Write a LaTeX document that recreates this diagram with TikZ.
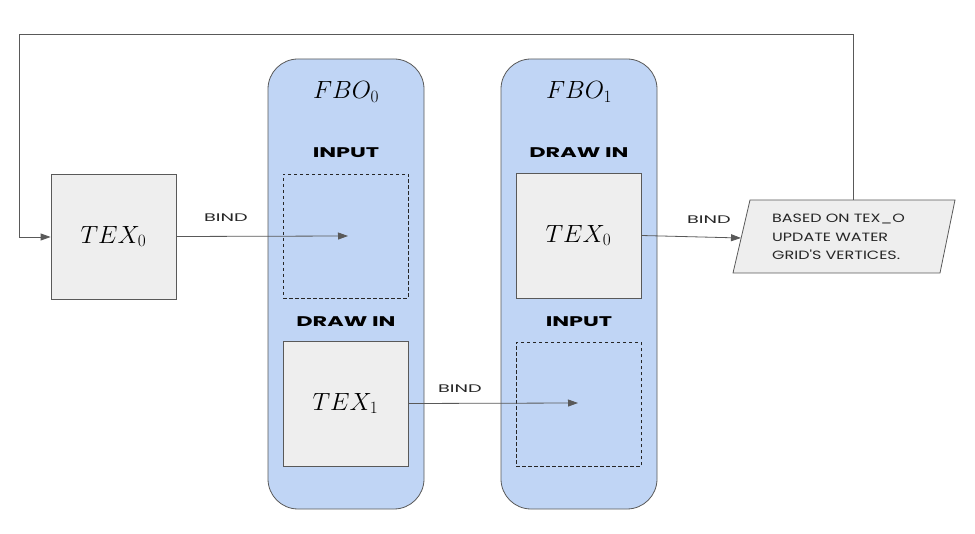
\documentclass[tikz,border=0pt]{standalone}
\usepackage{fontspec}
\newfontfamily\headfont[FakeStretch=1.6]{Poppins}
\newfontfamily\bindfont[FakeStretch=1.75]{Poppins}
\newfontfamily\notefont[FakeStretch=1.33]{Poppins}
\usetikzlibrary{arrows.meta}
\definecolor{fbofill}{HTML}{C0D5F5}
\definecolor{texfill}{HTML}{EEEEEE}
\definecolor{edge}{HTML}{595959}
\tikzset{
  fbo/.style={draw=edge, fill=fbofill, rounded corners=30pt, line width=0.8pt},
  texbox/.style={draw=edge, fill=texfill, line width=0.8pt, minimum width=125pt, minimum height=125pt, inner sep=0pt},
  dashbox/.style={draw=black!85, dashed, dash pattern=on 3.5pt off 2.5pt, line width=0.9pt, minimum width=125pt, minimum height=124pt, inner sep=0pt},
  mathlbl/.style={font=\fontsize{23}{26}\selectfont},
  head/.style={font=\headfont\bfseries\fontsize{14}{16}\selectfont},
  bindlbl/.style={font=\bindfont\fontsize{11}{12}\selectfont, text=black!85},
  conn/.style={draw=edge, line width=0.8pt, -{Triangle[length=10pt,width=7pt]}},
}
\begin{document}
\begin{tikzpicture}[x=1pt,y=-1pt]
\useasboundingbox (0,0) rectangle (975,534);
% FBO containers
\draw[fbo] (268,59) rectangle (424,509);
\draw[fbo] (501,59) rectangle (657,509);
\node[mathlbl] (fbo0) at (346,92) {$FBO_0$};
\node[mathlbl] (fbo1) at (579,92) {$FBO_1$};
\node[head] (in0) at (346,153) {INPUT};
\node[head] (dr1) at (579,153) {DRAW IN};
\node[head] (dr0) at (346,322) {DRAW IN};
\node[head] (in1) at (579,322) {INPUT};
% boxes
\node[texbox, mathlbl] (tex0) at (113.5,236.5) {$TEX_0$};
\node[dashbox] (din0) at (345.5,236) {};
\node[texbox, mathlbl] (tex1) at (345.5,403.5) {$TEX_1$};
\node[texbox, mathlbl] (tex0b) at (578.5,235.5) {$TEX_0$};
\node[dashbox] (din1) at (578.5,404.5) {};
% parallelogram
\coordinate (pbl) at (733,273);
\coordinate (ptl) at (750,200);
\coordinate (ptr) at (955,200);
\coordinate (pbr) at (940,273);
\draw[draw=edge, fill=texfill, line width=0.8pt] (pbl) -- (ptl) -- (ptr) -- (pbr) -- cycle;
\node[font=\notefont\fontsize{12}{18.5}\selectfont, align=left, anchor=west, text=black!85, inner sep=0pt] (note) at (772,237)
  {BASED ON TEX\_O\\UPDATE WATER\\GRID'S VERTICES.};
\coordinate (pin) at (741,238);
\coordinate (ptop) at (853,200);
% connectors
\coordinate (d0c) at (348,236);
\coordinate (d1c) at (578,403);
\draw[conn] (tex0.east) -- (d0c);
\node[bindlbl] (b0) at (226,218) {BIND};
\draw[conn] (tex1.east) -- (d1c);
\node[bindlbl] (b1) at (460,389) {BIND};
\draw[conn] (tex0b.east) -- (pin);
\node[bindlbl] (b2) at (709,220) {BIND};
\coordinate (c1) at (853,34);
\coordinate (c2) at (19,34);
\coordinate (c3) at (19,237);
\draw[conn] (ptop) -- (c1) -- (c2) -- (c3) -- (tex0.west |- c3);
\end{tikzpicture}
\end{document}
